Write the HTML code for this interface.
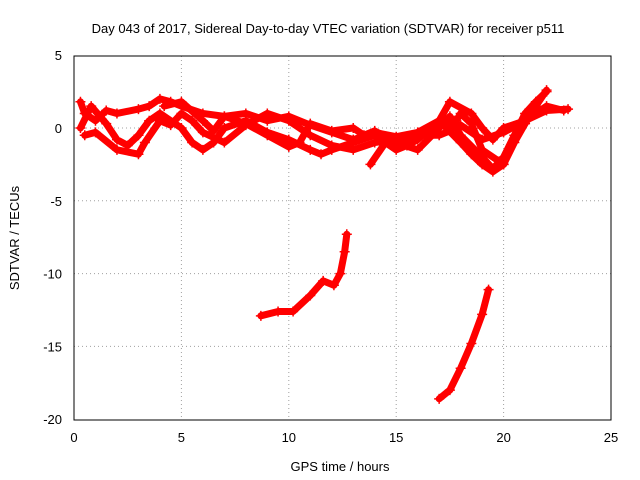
<!DOCTYPE html>
<html><head><meta charset="utf-8"><style>
body{margin:0;background:#fff}
svg{display:block;font-family:"Liberation Sans",sans-serif}
</style></head><body>
<svg id="chart" width="640" height="480">
<text x="328" y="33" text-anchor="middle" font-size="13">Day 043 of 2017, Sidereal Day-to-day VTEC variation (SDTVAR) for receiver p511</text>
<text x="340" y="471" text-anchor="middle" font-size="13">GPS time / hours</text>
<text transform="translate(19,238) rotate(-90)" text-anchor="middle" font-size="13">SDTVAR / TECUs</text>
<g id="grid"></g><g id="ticks"></g><g id="series"></g>
<rect x="74" y="56" width="537" height="364" fill="none" stroke="#000"/>
</svg>
<script>
const xTicks=[0,5,10,15,20,25];
const yTicks=[5,0,-5,-10,-15,-20];
const seriesA=[[0.3,1.8],[0.5,1],[1,0.5],[1.5,1.2],[2,1],[3,1.3],[3.5,1.5],[4,2],[4.5,1.8],[5,1.5],[6,1],[7,0.8],[8,1],[9,0.5],[10,0.8],[11,0.2],[12,-0.3],[13,-0.8],[14,-0.3],[15,-0.6],[16,-0.3],[17,0.5],[18,0.2],[19,-0.8],[20,-0.3],[21,0.5],[22,1.2],[23,1.3]];
const seriesB=[[0.3,0],[0.8,1.5],[1.5,0.3],[2,-0.8],[2.5,-1.2],[3,-0.5],[3.5,0.5],[4,1],[5,0],[5.5,-1],[6,-1.5],[6.5,-1],[7,0],[8,0.5],[9,-0.3],[10,-0.8],[11,-1.5],[11.5,-1.8],[12,-1.5],[13,-1],[14,-0.5],[15,-1],[16,-1.5],[17,0],[17.5,0.8],[18,-0.5],[19,-2],[19.5,-2.8],[20,-2],[20.5,-0.5],[21,1],[21.5,1.8],[22,2.5]];
const seriesC=[[0.5,-0.5],[1,-0.3],[2,-1.5],[3,-1.8],[3.3,-1],[4,0.5],[4.5,0.2],[5,1],[5.5,0.5],[6,-0.3],[7,-1],[8,0.2],[9,1],[10,0.5],[11,-0.5],[12,-1.2],[13,-1.5],[14,-1],[15,-0.8],[16,-0.5],[17,0.5],[18,-1],[18.5,-1.8],[19,-2.5],[19.5,-3],[20,-2.5],[20.5,-1],[21,0.3],[21.5,1.5],[22,2.6]];
const seriesD=[[4.2,1.5],[5,1.8],[6,0.5],[6.5,-0.2],[7,0.8],[8,0.3],[9,-0.5],[10,-1.3],[10.5,-1],[11,0.3],[12,-0.2],[13,0],[13.5,-0.5],[14,-0.2],[15,-1],[16,-0.5],[17,-0.5],[17.5,-0.2],[18,1],[18.5,0.3],[19,-1.5],[20,-2.5]];
const seriesE=[[13.8,-2.5],[14.5,-1],[15,-1.5],[15.5,-1.2],[16,-0.8],[17,0.5],[17.5,1.8],[18.5,1],[19,0],[19.5,-0.8],[20,0],[21,0.5],[22,1.5],[22.8,1.2]];
const seriesF=[[8.7,-12.9],[9.5,-12.6],[10.2,-12.6],[11,-11.5],[11.6,-10.5],[12.1,-10.8],[12.4,-10],[12.6,-8.5],[12.7,-7.3]];
const seriesG=[[17,-18.6],[17.5,-18],[18,-16.5],[18.5,-14.8],[19,-12.8],[19.3,-11.1]];
const allSeries=[seriesA,seriesB,seriesC,seriesD,seriesE,seriesF,seriesG];
const NS="http://www.w3.org/2000/svg";
const X=v=>74+v*(537/25), Y=v=>128-v*(364/25);
function mk(tag,attrs,parent){const e=document.createElementNS(NS,tag);for(const k in attrs)e.setAttribute(k,attrs[k]);parent.appendChild(e);return e;}
const grid=document.getElementById('grid'),ticks=document.getElementById('ticks'),ser=document.getElementById('series');
xTicks.forEach(t=>{
 if(t>0&&t<25){const l=mk('line',{x1:X(t),x2:X(t),y1:56,y2:420,stroke:'#a0a0a0','stroke-dasharray':'1,3'},grid);
 
 }
 const tk=mk('text',{x:X(t),y:442,'text-anchor':'middle','font-size':13},ticks);tk.textContent=t;
 
 
});
yTicks.forEach(t=>{
 if(t<5&&t>-20){const l=mk('line',{x1:74,x2:611,y1:Y(t),y2:Y(t),stroke:'#a0a0a0','stroke-dasharray':'1,3'},grid);
 
 }
 const tk=mk('text',{x:62,y:Y(t)+5,'text-anchor':'end','font-size':13},ticks);tk.textContent=t;
 
 
});
allSeries.forEach((s,i)=>{
 const g=mk('g',{},ser);
 
 
 mk('polyline',{points:s.map(p=>X(p[0])+','+Y(p[1])).join(' '),fill:'none',stroke:'#ff0000','stroke-width':7,'stroke-linejoin':'round','stroke-linecap':'round'},g);
 s.forEach(p=>{
  const m=mk('path',{d:`M${X(p[0])-5},${Y(p[1])}h10M${X(p[0])},${Y(p[1])-5}v10`,stroke:'#ff0000','stroke-width':1.5},g);
  
  
 });
});
</script>
</body></html>
